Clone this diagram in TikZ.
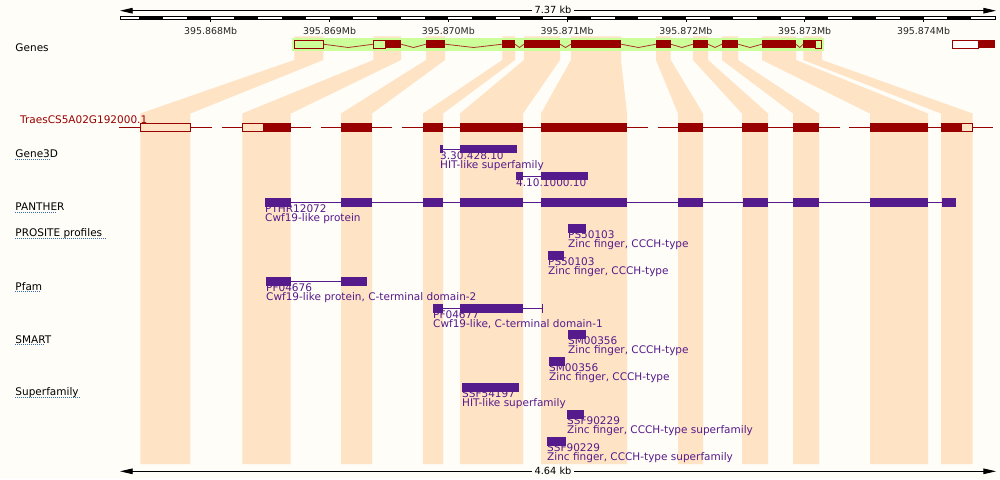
\documentclass[tikz,border=0pt]{standalone}
\usepackage{fontspec}
\setmainfont{DejaVu Sans}
\usetikzlibrary{arrows.meta}
\definecolor{bgc}{HTML}{FFFDF7}
\definecolor{peach}{HTML}{FEE3C5}
\definecolor{lime}{HTML}{CCFF99}
\definecolor{exred}{HTML}{990000}
\definecolor{intr}{HTML}{A8332E}
\definecolor{fpurple}{HTML}{551A8B}
\definecolor{ulblue}{HTML}{3A6BAE}
\newcommand\pcol[4]{\fill[peach] (#1,36.3) -- (#2,36.3) -- (#2,60) -- (#4,113.5) -- (#4,464) -- (#3,464) -- (#3,113.5) -- (#1,60) -- cycle;}
\newcommand\flab[5]{%
  \node[ftxt] (#1a) at (#2,#3+14.3) {#4};
  \node[ftxt] (#1b) at (#2,#3+23.3) {#5};}
\newcommand\trklab[4]{%
  \node[trk] (#1) at (15.3,#2) {#3};
  \draw[ulblue,line width=0.8pt,dash pattern=on 1pt off 1pt] (15.3,#2+1.8) -- (#4,#2+1.8);}
\begin{document}
\begin{tikzpicture}[x=1pt,y=-1pt,
  ftxt/.style={anchor=base west,inner sep=0pt,text=fpurple,font=\fontsize{10.5}{12}\selectfont},
  trk/.style={anchor=base west,inner sep=0pt,text=black,font=\fontsize{10.5}{12}\selectfont},
  mb/.style={anchor=base,inner sep=0pt,text=black!85,font=\fontsize{9.4}{10}\selectfont},
  kb/.style={anchor=base,inner xsep=2.3pt,inner ysep=0pt,text=black,font=\fontsize{9.8}{11}\selectfont},
  fbox/.style={fill=fpurple},
  fline/.style={draw=fpurple,line width=1pt},
  exon/.style={fill=exred},
  utr/.style={draw=exred,line width=0.9pt},
  tline/.style={draw=exred,line width=1pt},
  intron/.style={draw=intr,line width=0.8pt},
  scalearr/.style={line width=0.9pt,-{Triangle[length=12.7pt,width=5.6pt]}}]
\useasboundingbox (0,0) rectangle (1000,479);
\fill[bgc] (0,0) rectangle (1000,479);
% ---- top scale bar
\coordinate (tl) at (120,10.7);
\coordinate (tr) at (996,10.7);
\node[kb] (tlab) at (553,13.8) {7.37 kb};
\draw[scalearr] (tlab.west |- tl) -- (tl);
\draw[scalearr] (tlab.east |- tr) -- (tr);
\fill[white] (120,16.3) rectangle (995,19.7);
\foreach \k in {-3,-1,...,31}{
  \fill[black] ({max(120,210.7+\k*23.76)},16.3) rectangle ({min(995,210.7+(\k+1)*23.76)},19.7);}
\draw[black,line width=0.7pt] (120,16.3) rectangle (995,19.7);
\foreach \i/\t in {0/868,1/869,2/870,3/871,4/872,5/873,6/874}{
  \draw[black,line width=0.8pt] ({210.7+118.8*\i},19.7) -- ({210.7+118.8*\i},22);
  \node[mb] (mb\i) at ({210.7+118.8*\i},34.3) {395.\t Mb};}
% ---- peach columns
\pcol{294.3}{323.3}{140.3}{190.3}
\pcol{373.3}{401}{242.3}{290.7}
\pcol{426}{445}{341}{372}
\pcol{502.3}{515}{423}{443}
\pcol{524}{560}{460}{523}
\pcol{571}{621}{541}{627}
\pcol{656}{670.7}{678}{703}
\pcol{693}{708}{742}{768}
\pcol{722}{738}{793}{819}
\pcol{762}{796}{870}{928}
\pcol{803.3}{822}{941}{972.7}
% ---- genes row
\node[trk] (lgenes) at (15.3,51) {Genes};
\fill[lime] (291.7,38.3) rectangle (824,50.7);
\foreach \a/\b in {323.3/373.3,401/426,445/502.3,515/524,560/571,621/656,670.7/693,708/722,738/762,796/803.3}{
  \draw[intron] (\a,44.2) -- ({(\a+\b)/2},47.5) -- (\b,44.2);}
\draw[utr] (294.3,40) rectangle (323.3,48.3);
\draw[utr] (373.3,40) rectangle (385.3,48.3);
\foreach \a/\b in {385.3/401,426/445,502.3/515,524/560,571/621,656/670.7,693/708,722/738,762/796,803.3/815}{
  \fill[exon] (\a,40) rectangle (\b,48.3);}
\draw[utr] (815,40) rectangle (821.7,48.3);
\draw[utr,fill=white] (952.3,40) rectangle (978.3,48.3);
\fill[exon] (978.3,40) rectangle (995,48.3);
% ---- transcript row
\node[trk,text=exred] (ltr) at (20,123) {TraesCS5A02G192000.1};
\foreach \a/\b in {119.3/211.7,222/310.7,321/392,402/647.7,658.3/840,849/993}{
  \draw[tline] (\a,127.3) -- (\b,127.3);}
\draw[utr,fill=peach] (140.3,123.3) rectangle (190.3,131.7);
\draw[utr,fill=peach] (242.3,123.3) rectangle (263.3,131.7);
\foreach \a/\b in {263.3/290.7,341/372,423/443,460/523,541/627,678/703,742/768,793/819,870/928,941/961}{
  \fill[exon] (\a,123.3) rectangle (\b,131.7);}
\draw[utr,fill=peach] (961,123.3) rectangle (972.7,131.7);
% ---- Gene3D
\trklab{lg3d}{157.3}{Gene3D}{51}
\draw[fline] (442.7,149.2) -- (460,149.2);
\fill[fbox] (440,145) rectangle (442.7,153.3);
\fill[fbox] (460,145) rectangle (517,153.3);
\flab{g3a}{440}{145}{3.30.428.10}{HIT-like superfamily}
\draw[fline] (523,176) -- (541,176);
\fill[fbox] (516,171.7) rectangle (523,180.3);
\fill[fbox] (541,171.7) rectangle (588,180.3);
\node[ftxt] (g3b) at (516,171.7+14.3) {4.10.1000.10};
% ---- PANTHER
\trklab{lpan}{210.7}{PANTHER}{56.7}
\draw[fline] (290.7,202.3) -- (942,202.3);
\foreach \a/\b in {265/290.7,341/372,423/443,460/523,541/627,678/703,743/768,793/819,870/928,942/956}{
  \fill[fbox] (\a,198) rectangle (\b,206.7);}
\flab{pan}{265}{198}{PTHR12072}{Cwf19-like protein}
% ---- PROSITE
\trklab{lpro}{236.7}{PROSITE profiles}{107}
\fill[fbox] (568,224) rectangle (586,232.7);
\flab{proa}{568}{224}{PS50103}{Zinc finger, CCCH-type}
\fill[fbox] (548,251) rectangle (564,259.7);
\flab{prob}{548}{251}{PS50103}{Zinc finger, CCCH-type}
% ---- Pfam
\trklab{lpf}{290}{Pfam}{41.3}
\draw[fline] (291,281.3) -- (341,281.3);
\fill[fbox] (266,277) rectangle (291,285.7);
\fill[fbox] (341,277) rectangle (367,285.7);
\flab{pfa}{266}{277}{PF04676}{Cwf19-like protein, C-terminal domain-2}
\draw[fline] (443,308.3) -- (541.7,308.3);
\fill[fbox] (433,304) rectangle (443,312.7);
\fill[fbox] (460,304) rectangle (523,312.7);
\fill[fbox] (541.5,304) rectangle (542.9,312.7);
\flab{pfb}{433}{304}{PF04677}{Cwf19-like, C-terminal domain-1}
% ---- SMART
\trklab{lsm}{343}{SMART}{45}
\fill[fbox] (568,330) rectangle (586,338.7);
\flab{sma}{568}{330}{SM00356}{Zinc finger, CCCH-type}
\fill[fbox] (549,357) rectangle (565,365.7);
\flab{smb}{549}{357}{SM00356}{Zinc finger, CCCH-type}
% ---- Superfamily
\trklab{lsf}{395.5}{Superfamily}{81}
\fill[fbox] (462,383) rectangle (519,391.7);
\flab{sfa}{462}{383}{SSF54197}{HIT-like superfamily}
\fill[fbox] (567,410) rectangle (584,418.7);
\flab{sfb}{567}{410}{SSF90229}{Zinc finger, CCCH-type superfamily}
\fill[fbox] (547,437) rectangle (566,445.7);
\flab{sfc}{547}{437}{SSF90229}{Zinc finger, CCCH-type superfamily}
% ---- bottom scale
\coordinate (bl) at (120,471.3);
\coordinate (br) at (996,471.3);
\node[kb] (blab) at (553,474.6) {4.64 kb};
\draw[scalearr] (blab.west |- bl) -- (bl);
\draw[scalearr] (blab.east |- br) -- (br);
\end{tikzpicture}
\end{document}
